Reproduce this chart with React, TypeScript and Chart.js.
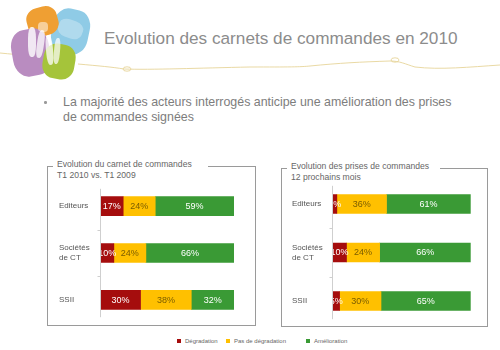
import React, { useEffect, useRef } from "react";
import { Chart, registerables } from "chart.js";

Chart.register(...registerables);

const categories: (string | string[])[] = ["Editeurs", ["Sociétés", "de CT"], "SSII"];
const seriesNames = ["Dégradation", "Pas de dégradation", "Amélioration"];

const leftDegradation = [17, 10, 30];
const leftPasDegradation = [24, 24, 38];
const leftAmelioration = [59, 66, 32];

const rightDegradation = [3, 10, 5];
const rightPasDegradation = [36, 24, 30];
const rightAmelioration = [61, 66, 65];

const RED = "#A50D0D";
const YELLOW = "#FFC000";
const GREEN = "#3A9A35";
const labelColors = ["#ffffff", "#7a5c00", "#ffffff"];
const FONT = "'Liberation Sans', Arial, sans-serif";

const barLabelPlugin = {
  id: "barLabels",
  afterDatasetsDraw(chart: any) {
    const ctx = chart.ctx;
    ctx.save();
    ctx.font = `9px ${FONT}`;
    ctx.textAlign = "center";
    ctx.textBaseline = "middle";
    chart.data.datasets.forEach((ds: any, di: number) => {
      const meta = chart.getDatasetMeta(di);
      meta.data.forEach((el: any, i: number) => {
        const x = (el.x + el.base) / 2;
        ctx.fillStyle = labelColors[di];
        ctx.fillText(ds.data[i] + "%", x, el.y + 0.5);
      });
    });
    ctx.restore();
  },
};

const axisPlugin = {
  id: "axisLine",
  afterDraw(chart: any) {
    const ctx = chart.ctx;
    const area = chart.chartArea;
    const y = chart.scales.y;
    ctx.save();
    ctx.strokeStyle = "#cfcfcf";
    ctx.lineWidth = 1;
    ctx.beginPath();
    const x0 = Math.round(area.left) - 0.5;
    ctx.moveTo(x0, area.top + 6);
    ctx.lineTo(x0, area.bottom - 6);
    for (let i = 0; i < categories.length - 1; i++) {
      const yy = Math.round((y.getPixelForValue(i) + y.getPixelForValue(i + 1)) / 2) + 0.5;
      ctx.moveTo(x0 - 3, yy);
      ctx.lineTo(x0, yy);
    }
    ctx.stroke();
    ctx.restore();
  },
};

function makeChart(
  canvas: HTMLCanvasElement,
  deg: number[],
  pas: number[],
  amel: number[],
  axisWidth: number,
  padding: { left: number; right: number; top: number; bottom: number }
) {
  return new Chart(canvas, {
    type: "bar",
    data: {
      labels: categories as any,
      datasets: [
        { label: seriesNames[0], data: deg, backgroundColor: RED, borderWidth: 0 },
        { label: seriesNames[1], data: pas, backgroundColor: YELLOW, borderWidth: 0 },
        { label: seriesNames[2], data: amel, backgroundColor: GREEN, borderWidth: 0 },
      ],
    },
    options: {
      indexAxis: "y",
      animation: false,
      responsive: false,
      maintainAspectRatio: false,
      layout: { padding },
      datasets: { bar: { barThickness: 19 } } as any,
      plugins: { legend: { display: false }, tooltip: { enabled: false } },
      scales: {
        x: { stacked: true, min: 0, max: 100, display: false },
        y: {
          stacked: true,
          grid: { display: false },
          border: { display: false },
          ticks: {
            crossAlign: "far",
            padding: 0,
            color: "#555555",
            font: { family: FONT, size: 8 },
          },
          afterFit: (s: any) => {
            s.width = axisWidth;
          },
        } as any,
      },
    },
    plugins: [barLabelPlugin, axisPlugin],
  });
}

function Box(props: {
  left: number;
  top: number;
  right: number;
  bottom: number;
  gapStart: number;
  lines: string[];
}) {
  const { left, top, right, bottom, gapStart, lines } = props;
  const c = "#9a9a9a";
  return (
    <>
      <div
        style={{
          position: "absolute",
          left,
          top,
          width: right - left,
          height: bottom - top,
          borderLeft: `1px solid ${c}`,
          borderRight: `1px solid ${c}`,
          borderBottom: `1px solid ${c}`,
          boxSizing: "border-box",
        }}
      />
      <div style={{ position: "absolute", left, top, width: 6, height: 1, background: c }} />
      <div style={{ position: "absolute", left: gapStart, top, width: right - gapStart, height: 1, background: c }} />
      <div
        style={{
          position: "absolute",
          left: left + 10,
          top: top - 7,
          fontFamily: FONT,
          fontSize: 8.6,
          lineHeight: "11px",
          color: "#666",
          whiteSpace: "nowrap",
        }}
      >
        {lines.map((l, i) => (
          <div key={i}>{l}</div>
        ))}
      </div>
    </>
  );
}

export default function App() {
  const leftRef = useRef<HTMLCanvasElement>(null);
  const rightRef = useRef<HTMLCanvasElement>(null);

  useEffect(() => {
    const a = makeChart(leftRef.current!, leftDegradation, leftPasDegradation, leftAmelioration, 41.5, {
      left: 4,
      right: 6,
      top: 3.5,
      bottom: 4,
    });
    const b = makeChart(rightRef.current!, rightDegradation, rightPasDegradation, rightAmelioration, 40.7, {
      left: 4,
      right: 7.3,
      top: 4,
      bottom: 3,
    });
    return () => {
      a.destroy();
      b.destroy();
    };
  }, []);

  const blob = (l: number, t: number, w: number, h: number, color: string, rot: number, z: number, op = 1) => (
    <div
      style={{
        position: "absolute",
        left: l,
        top: t,
        width: w,
        height: h,
        background: color,
        borderRadius: "38%",
        transform: `rotate(${rot}deg)`,
        zIndex: z,
        opacity: op,
      }}
    />
  );

  const legendItems = [
    { x: 177, color: RED, text: seriesNames[0] },
    { x: 226, color: YELLOW, text: seriesNames[1] },
    { x: 306, color: GREEN, text: seriesNames[2] },
  ];

  return (
    <div
      style={{
        position: "absolute",
        left: 0,
        top: 0,
        width: 500,
        height: 350,
        background: "#ffffff",
        overflow: "hidden",
        fontFamily: FONT,
      }}
    >
      {/* decorative line */}
      <svg width={500} height={90} style={{ position: "absolute", left: 0, top: 0 }}>
        <g fill="none" stroke="#e6d59a" strokeWidth={0.9}>
          <path d="M0,53 C10,54 20,55 30,55" />
          <path d="M78,64 C100,66 112,67 124,69 C150,70 200,68 250,67 C290,67 300,67 310,66 C340,63 360,62 390,61 C400,61 405,64 415,67 C440,70 470,67 500,65" />
          <ellipse cx={127} cy={69} rx={4} ry={2.2} />
          <ellipse cx={395} cy={60} rx={4} ry={2.2} />
        </g>
      </svg>

      {/* logo */}
      {blob(52, 9, 37, 45, "#8fcbe6", 12, 1)}
      {blob(27, 7, 31, 29, "#ef9f33", -15, 2)}
      {blob(12, 29, 38, 47, "#b98cc0", -10, 3)}
      {blob(43, 44, 32, 35, "#a5c43a", 10, 4)}
      {blob(28, 27, 8, 30, "#ffffff", 0, 5, 0.8)}
      {blob(37, 30, 7, 28, "#ffffff", 8, 5, 0.75)}
      {blob(46, 35, 7, 30, "#ffffff", -5, 5, 0.75)}
      {blob(54, 38, 6, 26, "#ffffff", 5, 5, 0.7)}
      {blob(38, 22, 10, 10, "#ffffff", 0, 5, 0.5)}
      {blob(58, 20, 25, 18, "#ffffff", 20, 5, 0.3)}

      {/* title */}
      <div
        style={{
          position: "absolute",
          left: 104,
          top: 29.6,
          fontSize: 17.2,
          lineHeight: "17px",
          color: "#8c8c8c",
          whiteSpace: "nowrap",
        }}
      >
        Evolution des carnets de commandes en 2010
      </div>

      {/* bullet */}
      <div
        style={{
          position: "absolute",
          left: 44,
          top: 101,
          width: 2.5,
          height: 2.5,
          borderRadius: "50%",
          background: "#9a9a9a",
        }}
      />
      <div
        style={{
          position: "absolute",
          left: 63,
          top: 95,
          fontSize: 12.4,
          lineHeight: "14.5px",
          color: "#7d7d7d",
          whiteSpace: "nowrap",
        }}
      >
        <div>La majorité des acteurs interrogés anticipe une amélioration des prises</div>
        <div>de commandes signées</div>
      </div>

      <Box
        left={47}
        top={166}
        right={256}
        bottom={326}
        gapStart={208}
        lines={["Evolution du carnet de commandes", "T1 2010 vs. T1 2009"]}
      />
      <Box
        left={281}
        top={168}
        right={488}
        bottom={327}
        gapStart={440}
        lines={["Evolution des prises de commandes", "12 prochains mois"]}
      />

      <canvas
        ref={leftRef}
        width={185}
        height={150}
        style={{ position: "absolute", left: 55, top: 178, width: 185, height: 150 }}
      />
      <canvas
        ref={rightRef}
        width={190}
        height={155}
        style={{ position: "absolute", left: 288, top: 175, width: 190, height: 155 }}
      />

      {/* legend */}
      {legendItems.map((it, i) => (
        <React.Fragment key={i}>
          <div
            style={{
              position: "absolute",
              left: it.x,
              top: 339,
              width: 4,
              height: 4,
              background: it.color,
            }}
          />
          <div
            style={{
              position: "absolute",
              left: it.x + 8,
              top: 337,
              fontSize: 6,
              lineHeight: "8px",
              color: "#666",
              whiteSpace: "nowrap",
            }}
          >
            {it.text}
          </div>
        </React.Fragment>
      ))}
    </div>
  );
}
